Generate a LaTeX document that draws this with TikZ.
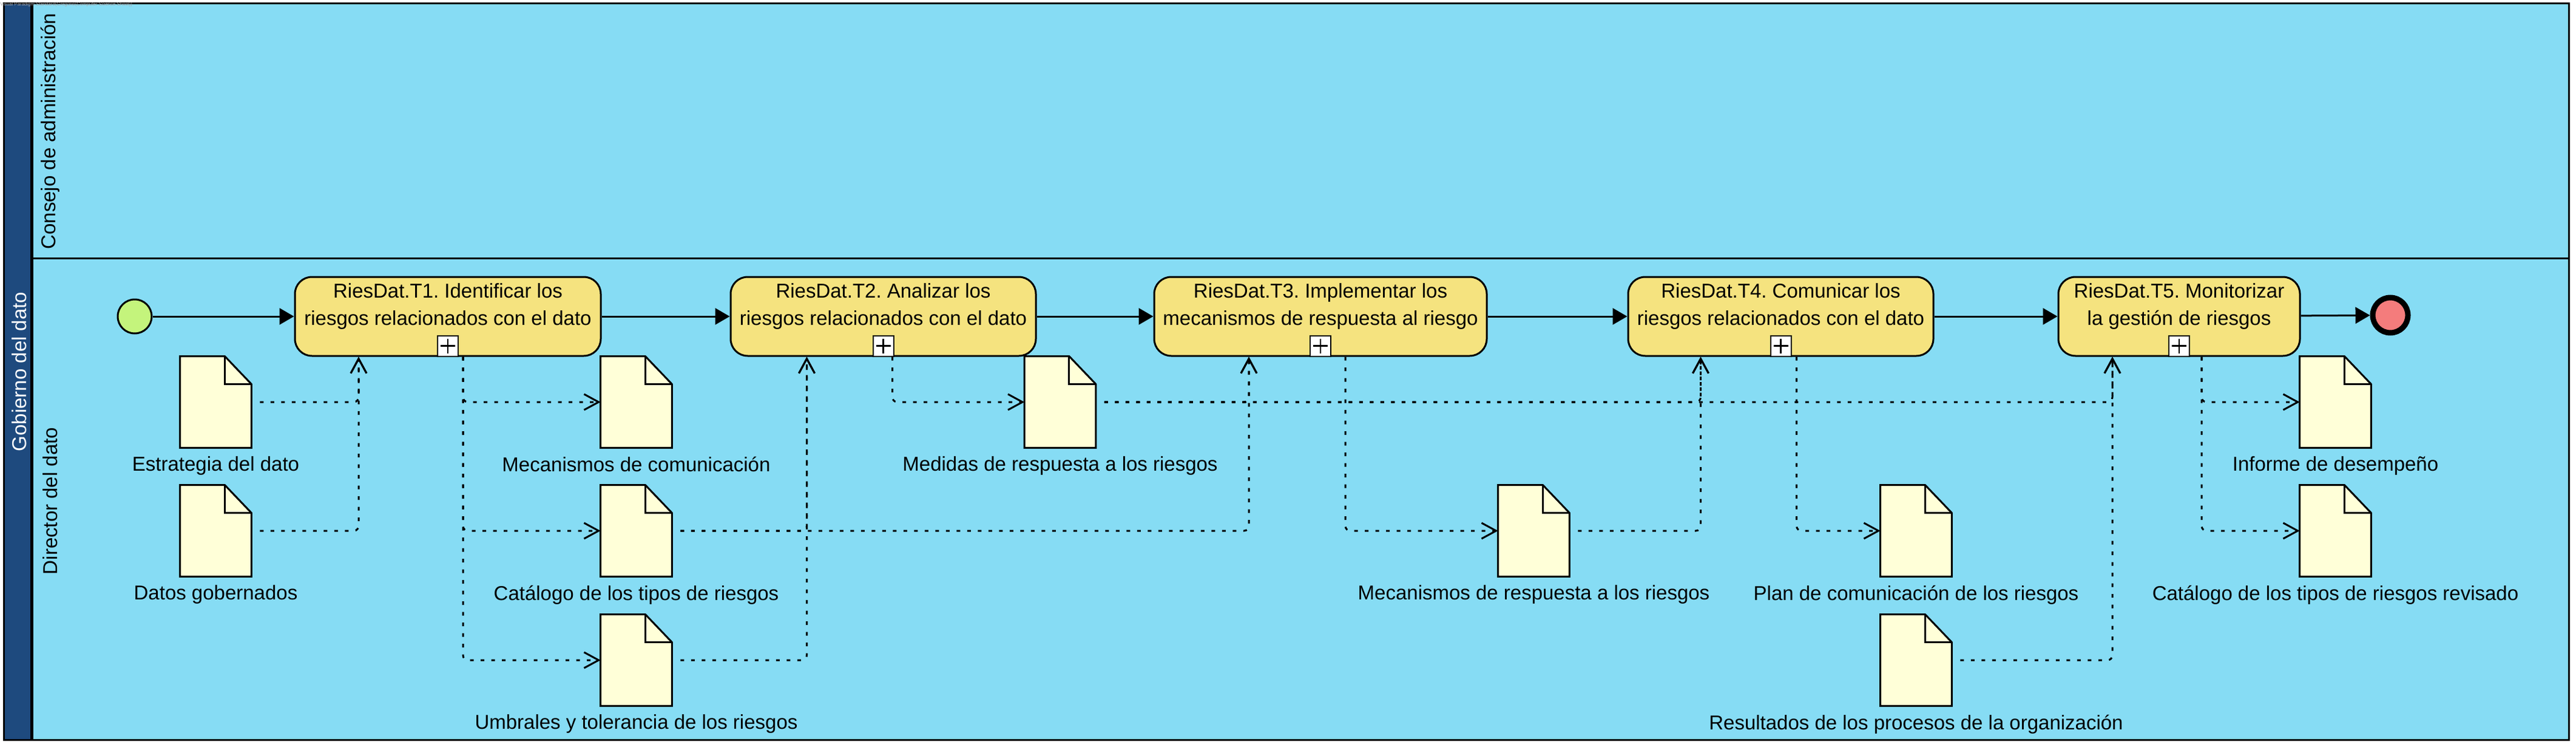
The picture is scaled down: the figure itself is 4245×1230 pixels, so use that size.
\documentclass[tikz,border=0pt]{standalone}
\usepackage{fontspec}
\setmainfont{Liberation Sans}
\usetikzlibrary{arrows.meta,positioning}
\frenchspacing

\definecolor{lanebg}{HTML}{86DCF4}
\definecolor{poolhead}{HTML}{1E4A7E}
\definecolor{taskfill}{HTML}{F5E37F}
\definecolor{docfill}{HTML}{FFFFD8}
\definecolor{startfill}{HTML}{C4F47C}
\definecolor{endfill}{HTML}{F47C7C}

\tikzset{
  txt/.style={font=\fontsize{16.5}{22.5}\selectfont},
  task/.style={txt, draw, fill=taskfill, line width=1.5pt, rounded corners=14pt,
    align=center, minimum height=65pt, inner xsep=2pt},
  marker/.style={draw, fill=white, line width=1pt, minimum width=17pt, minimum height=17pt,
    inner sep=0pt, anchor=south,
    path picture={\draw[line width=1.3pt]
      ([xshift=-6pt]path picture bounding box.center) -- ([xshift=6pt]path picture bounding box.center)
      ([yshift=-6pt]path picture bounding box.center) -- ([yshift=6pt]path picture bounding box.center);}},
  doc/.style={minimum width=58.5pt, minimum height=75pt, inner sep=0pt},
  doclabel/.style={txt, inner sep=0pt},
  lanelabel/.style={txt, rotate=90, inner sep=0pt},
  seq/.style={line width=1.5pt, -{Triangle[length=12pt,width=13.5pt]}},
  assoc/.style={line width=1.5pt, dash pattern=on 3pt off 5.75pt, rounded corners=4pt,
    -{Straight Barb[length=12pt,width=13pt]}}
}

\begin{document}
\begin{tikzpicture}[x=0.5pt, y=-0.5pt]
    \useasboundingbox (0,0) rectangle (4245,1230);
    \fill[white] (0,0) rectangle (4245,1230);

    % pool and lanes
    \fill[lanebg] (6,6) rectangle (4233,1218);
    \fill[poolhead] (6,6) rectangle (50,1218);
    \draw[line width=2.5pt] (52,6) -- (52,1218);
    \draw[line width=1.5pt] (52,425) -- (4233,425);
    \draw[line width=1.5pt] (6,6) rectangle (4233,1218);

    \node[inner sep=0pt, anchor=west, text=gray!70, font=\fontsize{3.9}{4}\selectfont] (marca) at (0,7)
        {Visual Paradigm Standard(Gregorio(Computer Science Shool))};

    \node[lanelabel, text=white] (pool) at (32,612) {Gobierno del dato};
    \node[lanelabel] (lane1) at (83,216) {Consejo de administración};
    \node[lanelabel] (lane2) at (83,825) {Director del dato};

    % events and tasks
    \node[circle, draw, line width=1.5pt, fill=startfill, minimum size=28pt, inner sep=0pt] (inicio) at (222,521) {};
    \node[circle, draw, line width=4.5pt, fill=endfill, minimum size=29pt, inner sep=0pt] (fin) at (3939,519) {};

    \node[task, minimum width=252pt] (t1) at (738,521)
        {RiesDat.T1. Identificar los\\riesgos relacionados con el dato\\[-3pt]\mbox{}};
    \node[task, minimum width=251.5pt] (t2) at (1455.5,521)
        {RiesDat.T2. Analizar los\\riesgos relacionados con el dato\\[-3pt]\mbox{}};
    \node[task, minimum width=274pt] (t3) at (2176,521)
        {RiesDat.T3. Implementar los\\mecanismos de respuesta al riesgo\\[-3pt]\mbox{}};
    \node[task, minimum width=251.5pt] (t4) at (2934.5,521)
        {RiesDat.T4. Comunicar los\\riesgos relacionados con el dato\\[-3pt]\mbox{}};
    \node[task, minimum width=199pt] (t5) at (3591,521)
        {RiesDat.T5. Monitorizar\\la gestión de riesgos\\[-3pt]\mbox{}};

    \foreach \t in {t1,t2,t3,t4,t5}
        \node[marker] (\t m) at (\t.south) {};

    \foreach \a/\b in {inicio/t1, t1/t2, t2/t3, t3/t4, t4/t5, t5/fin}
        \draw[seq] (\a) -- (\b);

    % data objects
    \node[doc] (estr) at (355.5,662) {};
    \node[doc] (datos) at (355.5,874) {};
    \node[doc] (meccom) at (1048.5,662) {};
    \node[doc] (catal) at (1048.5,874) {};
    \node[doc] (umbr) at (1048.5,1087) {};
    \node[doc] (medidas) at (1747,662) {};
    \node[doc] (mecresp) at (2527.5,874) {};
    \node[doc] (plan) at (3157.5,874) {};
    \node[doc] (result) at (3157.5,1087) {};
    \node[doc] (informe) at (3848.5,662) {};
    \node[doc] (catrev) at (3848.5,874) {};

    \foreach \d in {estr,datos,meccom,catal,umbr,medidas,mecresp,plan,result,informe,catrev} {
        \draw[fill=docfill, line width=1.5pt] (\d.south west) -- (\d.north west)
            -- ([xshift=-22pt]\d.north east) -- ([yshift=-23pt]\d.north east) -- (\d.south east) -- cycle;
        \draw[line width=1.5pt] ([xshift=-22pt]\d.north east) |- ([yshift=-23pt]\d.north east);
    }

    \node[doclabel, below=7pt of estr] (estrL) {Estrategia del dato};
    \node[doclabel, below=7pt of datos] (datosL) {Datos gobernados};
    \node[doclabel, below=7pt of meccom] (meccomL) {Mecanismos de comunicación};
    \node[doclabel, below=7pt of catal] (catalL) {Catálogo de los tipos de riesgos};
    \node[doclabel, below=7pt of umbr] (umbrL) {Umbrales y tolerancia de los riesgos};
    \node[doclabel, below=7pt of medidas] (medidasL) {Medidas de respuesta a los riesgos};
    \node[doclabel, below=7pt of mecresp] (mecrespL) {Mecanismos de respuesta a los riesgos};
    \node[doclabel, below=7pt of plan] (planL) {Plan de comunicación de los riesgos};
    \node[doclabel, below=7pt of result] (resultL) {Resultados de los procesos de la organización};
    \node[doclabel, below=7pt of informe] (informeL) {Informe de desempeño};
    \node[doclabel, below=7pt of catrev] (catrevL) {Catálogo de los tipos de riesgos revisado};

    % associations
    \draw[assoc, shorten <=7pt] (estr.east) -| ([xshift=-73.5pt]t1.south);
    \draw[assoc, shorten <=7pt] (datos.east) -| ([xshift=-73.5pt]t1.south);
    \draw[assoc] ([xshift=12.5pt]t1.south) |- (meccom.west);
    \draw[assoc] ([xshift=12.5pt]t1.south) |- (catal.west);
    \draw[assoc] ([xshift=12.5pt]t1.south) |- (umbr.west);

    \draw[assoc, shorten <=7pt] (catal.east) -| ([xshift=-63pt]t2.south);
    \draw[assoc, shorten <=7pt] (umbr.east) -| ([xshift=-63pt]t2.south);
    \draw[assoc] ([xshift=7.5pt]t2.south) |- (medidas.west);

    \draw[assoc, shorten <=7pt] (catal.east) -| ([xshift=-59pt]t3.south);
    \draw[assoc, shorten <=7pt] (medidas.east) -| ([xshift=-59pt]t3.south);
    \draw[assoc] ([xshift=20.5pt]t3.south) |- (mecresp.west);

    \draw[assoc, shorten <=7pt] (medidas.east) -| ([xshift=-66pt]t4.south);
    \draw[assoc, shorten <=7pt] (mecresp.east) -| ([xshift=-66pt]t4.south);
    \draw[assoc] ([xshift=13pt]t4.south) |- (plan.west);

    \draw[assoc, shorten <=7pt] (medidas.east) -| ([xshift=-55pt]t5.south);
    \draw[assoc, shorten <=7pt] (result.east) -| ([xshift=-55pt]t5.south);
    \draw[assoc] ([xshift=18.5pt]t5.south) |- (informe.west);
    \draw[assoc] ([xshift=18.5pt]t5.south) |- (catrev.west);
\end{tikzpicture}
\end{document}
